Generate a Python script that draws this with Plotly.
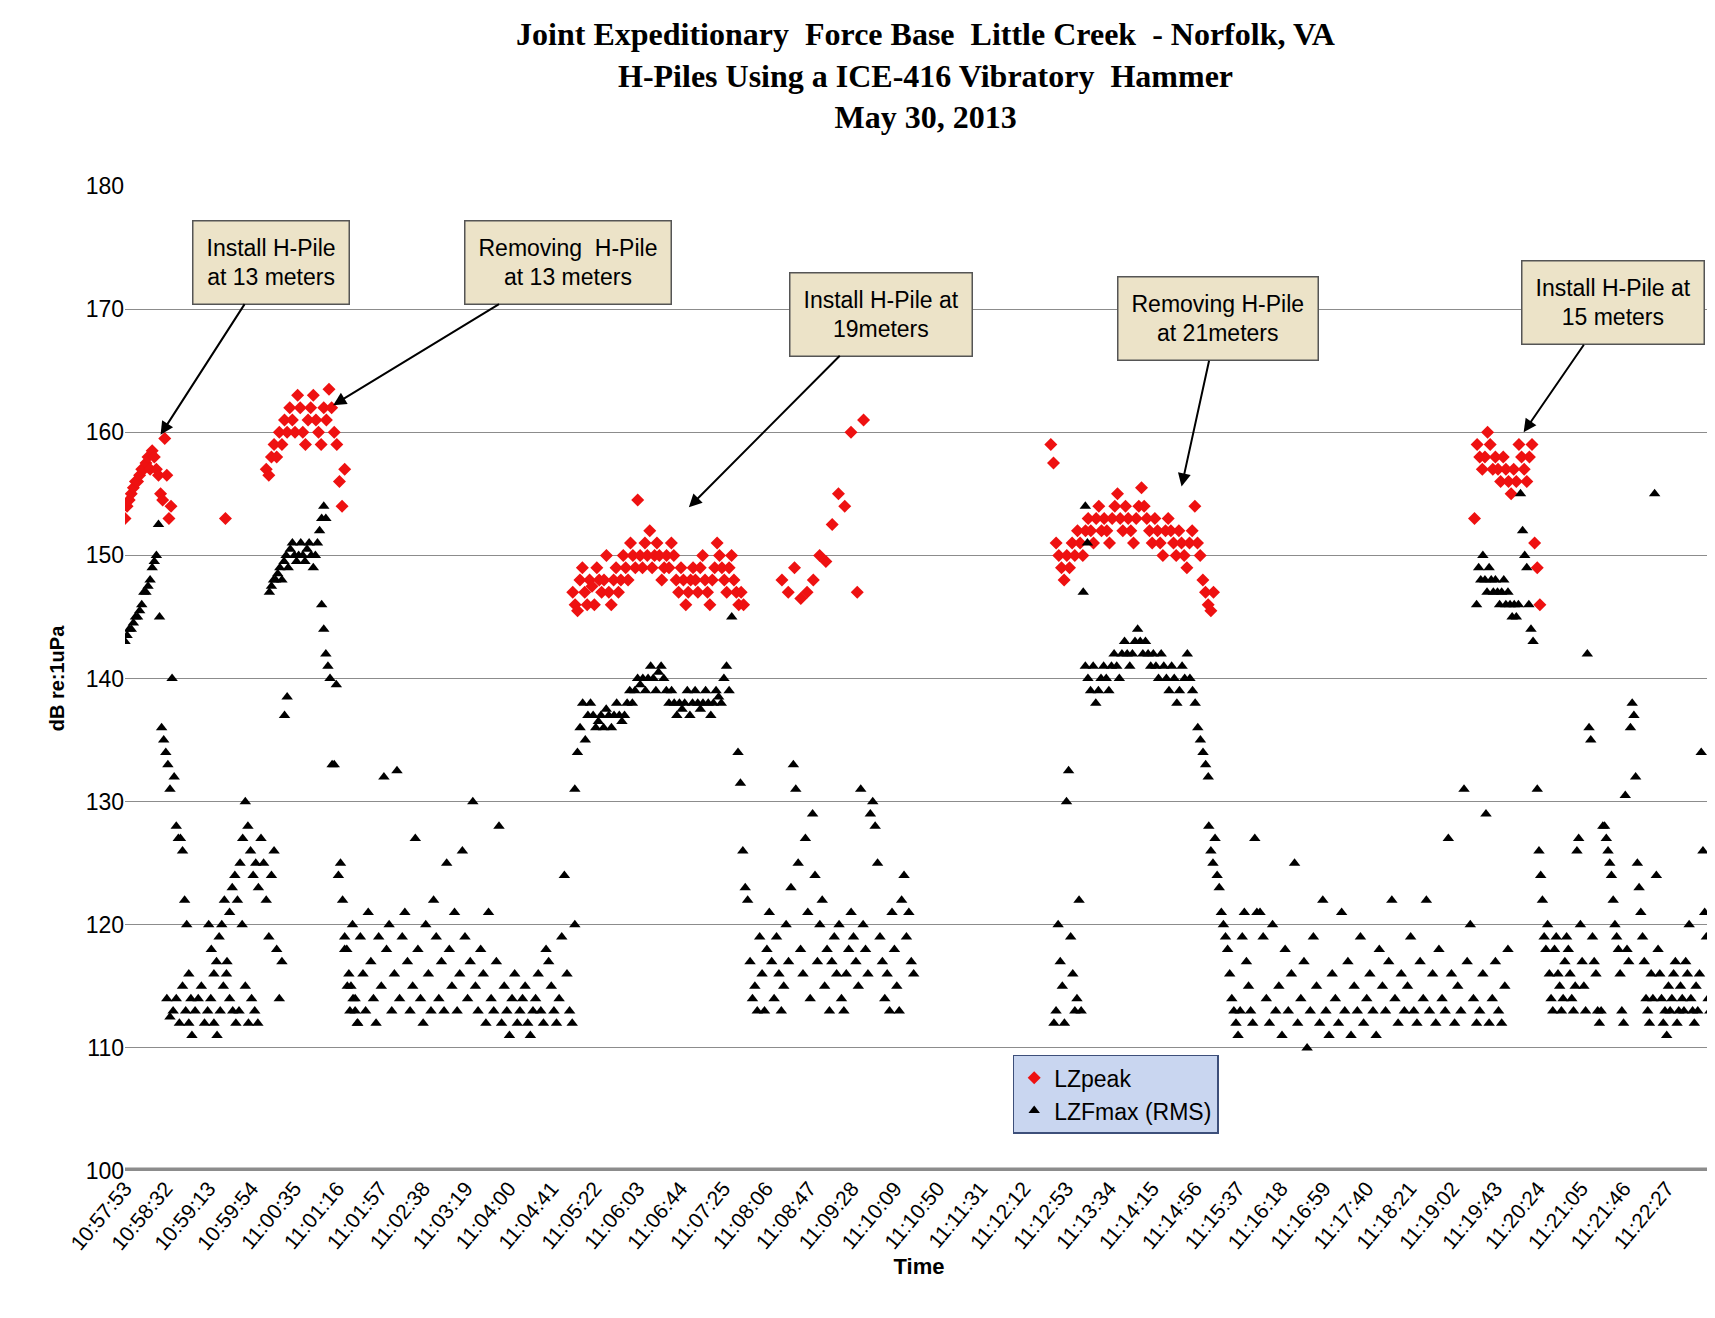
import plotly.graph_objects as go

# tick labels of the time axis (one every ~41 s)
tick_labels = ["10:57:53", "10:58:32", "10:59:13", "10:59:54", "11:00:35", "11:01:16", "11:01:57",
               "11:02:38", "11:03:19", "11:04:00", "11:04:41", "11:05:22", "11:06:03", "11:06:44",
               "11:07:25", "11:08:06", "11:08:47", "11:09:28", "11:10:09", "11:10:50", "11:11:31",
               "11:12:12", "11:12:53", "11:13:34", "11:14:15", "11:14:56", "11:15:37", "11:16:18",
               "11:16:59", "11:17:40", "11:18:21", "11:19:02", "11:19:43", "11:20:24", "11:21:05",
               "11:21:46", "11:22:27"]

# LZFmax (RMS) segments: (start second, sample step in s, values dB)
rms_segments = [
    (0, 2, [143, 143.5, 144, 144, 144.5, 145, 145, 145.5, 146, 147, 147, 147.5, 148, 149, 149.5, 150, 152.5]),
    (33, 2, [145, 136, 135, 134, 133, 131, 140, 132, 128, 127, 127, 126, 122, 120, 116, 114]),
    (40, 3, [114, 112.5, 113, 114, 112, 115, 113, 112, 111, 113, 114, 115, 112, 113, 114, 112, 111, 113, 115,
             116, 114, 113, 112, 113, 120, 115, 112, 114, 113, 112]),
    (80, 2.5, [120, 118, 116, 117, 119, 120, 122, 117, 121, 123, 124, 122, 125, 127, 130, 128, 126, 124, 125,
               123, 127, 125, 122, 119, 124, 126, 118, 114, 117, 137, 138.5]),
    (138, 2, [147, 147.5, 148, 148, 148.5, 149, 148, 149.5, 150, 149, 150.5, 151, 150, 149.5, 150, 151, 150,
              149.5, 150.5, 151, 150, 149, 150, 151, 152, 153, 154, 153]),
    (188, 2, [146, 144, 142, 141, 140, 133, 133, 139.5, 124, 125, 122, 119, 118, 116, 115, 114, 113, 112]),
    (210, 2.5, [118, 115, 113, 120, 114, 112, 119, 116, 113, 121, 117, 114, 112, 119, 115, 132, 118, 120, 113,
                116, 132.5, 114, 119, 121, 117, 113, 115, 127, 118, 114, 112, 120, 116, 113, 122, 119, 114, 117,
                113, 125, 118, 115, 121, 113, 116, 126, 119, 114, 117, 130, 115, 113, 118, 116, 112, 121, 114,
                113, 117, 128, 112, 115, 113, 111, 114, 116, 112, 113, 114, 115, 112, 111, 113, 114, 116, 113,
                112, 118, 117, 115, 113, 112, 114, 119, 124, 116, 113, 112, 120]),
    (430, 2.5, [131, 134, 136, 138, 135, 137, 138, 137, 136, 136.5, 137, 136, 137.5, 137, 136, 137, 138, 137,
                136.5, 137, 138, 139, 138, 139, 140, 139.5, 140, 139, 140, 141, 140, 139, 140.5, 141, 140, 139,
                138, 139, 138, 137, 138, 137.5, 138, 139, 137, 138, 139, 138, 137.5, 138, 139, 138, 137, 138,
                139, 138.5, 138, 140, 141, 139, 145]),
    (586, 2.3, [134, 131.5, 126, 123, 122, 117, 114, 115, 113, 119, 116, 113, 118, 121, 117, 114, 119, 116, 113,
                115, 120, 117, 123, 133, 131, 125, 118, 116, 127, 121, 114, 129, 124, 117, 120, 122, 115, 118,
                113, 117, 119, 116, 120, 114, 113, 116, 118, 121, 119, 117, 115, 131, 120, 118, 116, 129, 130,
                128, 125, 119, 117, 114, 116, 113, 121, 118, 115, 113, 122, 124, 119, 121, 117, 116]),
    (888, 2, [112, 113, 120, 117, 115, 112, 130, 132.5, 119, 116, 113, 114, 122, 113, 147, 154, 151]),
    (918, 2.5, [141, 140, 139, 141, 138, 139, 140, 141, 140, 139, 141, 142, 141, 140, 142, 143, 142, 141, 142,
                143, 144, 143, 142, 143, 142, 141, 142, 141, 140, 142, 141, 140, 139, 141, 140, 138, 139, 141,
                140, 142, 140, 139, 138, 136, 135, 134, 133, 132]),
    (1036, 2, [128, 126, 125, 127, 124, 123, 121, 120, 119, 118, 116, 114, 113, 112, 111, 113, 119, 121, 117,
               115, 113, 112, 127, 121]),
    (1085, 3, [121, 119, 114, 112, 120, 113, 115, 111, 118, 113, 116, 125, 112, 114, 117, 110, 113, 119, 115,
               112, 122, 113, 111, 116, 114, 112, 121, 113, 117, 111, 115, 113, 119, 112, 114, 116, 113, 111,
               118, 115, 113, 117, 122, 114, 112, 116, 113, 115, 119, 113, 112, 117, 114, 122, 113, 116, 112,
               118, 114, 113, 127, 116, 112, 115, 113, 131, 117, 120, 114, 112, 113, 116, 129, 112, 114, 117,
               113, 112, 115, 118]),
    (1292, 2, [146, 149, 148, 150, 148, 147, 149, 148, 147, 148, 147, 146, 147, 148, 146, 147, 146, 145, 146,
               145, 146, 155, 152, 150, 149, 146, 144, 143]),
    (1350, 1.65, [131, 126, 124, 122, 119, 118, 120, 116, 114, 113, 118, 119, 116, 115, 113, 114, 117, 119, 118,
                  116, 114, 113, 115, 126, 127, 120, 117, 115, 113, 142, 136, 135, 119, 117, 116, 113, 112, 113,
                  128, 128, 127, 126, 125, 124, 122, 120, 119, 118, 116, 113, 112, 130.5, 118, 117, 136, 138,
                  137, 132, 125, 123, 121, 119, 117, 114, 113, 112, 116, 114, 155, 124, 118, 116, 114, 112, 113,
                  111, 115, 113, 114, 116, 117, 112, 113, 115, 114, 113, 117, 116, 120, 114, 113, 112, 115, 113,
                  116, 134, 126, 121, 119, 114, 113]),
]

# LZpeak segments: (start second, sample step in s, values dB)
peak_segments = [
    (0, 2, [153, 154, 154.5, 155, 155.5, 156, 156, 156.5, 157, 157, 157.5, 158, 157, 158.5, 158, 157, 156.5,
            155, 154.5, 159.5, 156.5, 153, 154]),
    (96, 1, [153]),
    (135, 2.5, [157, 156.5, 158, 159, 158, 160, 159, 161, 160, 162, 161, 160, 163, 162, 160, 159, 161, 162, 163,
                161, 160, 159, 162, 161, 163.5, 162, 160, 159, 156, 154, 157]),
    (428, 2.3, [147, 146, 145.5, 148, 149, 147, 146, 148, 147.5, 146, 149, 148, 147, 148, 150, 147, 146, 148,
                149, 147, 148, 150, 149, 148, 151, 150, 149, 154.5, 150, 149, 151, 150, 152, 149, 150, 151, 150,
                148, 149, 150, 149, 151, 150, 148, 147, 149, 148, 146, 147, 148, 149, 148, 147, 149, 150, 148,
                147, 146, 148, 149, 151, 150, 149, 148, 147, 149, 150, 148, 147, 146, 147, 146]),
    (628, 6, [148, 147, 149, 146.5, 147, 148, 150, 149.5, 152.5, 155, 154, 160, 147, 161]),
    (885, 2.55, [159, 157.5, 151, 150, 149, 148, 150, 149, 151, 150, 152, 151, 150, 152, 153, 152, 151, 153, 154,
                 152, 153, 152, 151, 153, 154, 155, 153, 152, 154, 153, 152, 151, 153, 154, 155.5, 154, 153, 152,
                 151, 153, 152, 151, 150, 152, 153, 152, 151, 150, 152, 151, 150, 149, 151, 152, 154, 151, 150,
                 148, 147, 146, 145.5, 147]),
    (1290, 2.5, [153, 159, 158, 157, 158, 160, 159, 157, 158, 157, 156, 158, 157, 156, 155, 157, 156, 159, 158,
                 157, 156, 158, 159, 151, 149, 146]),
]

# callouts: text, box position (s, dB), arrow tip (s, dB)
callouts = [
    ("Install H-Pile<br>at 13 meters", (140, 173.8), (34, 159.8)),
    ("Removing  H-Pile<br>at 13 meters", (423, 173.8), (199, 162.2)),
    ("Install H-Pile at<br>19meters", (723, 169.6), (539, 153.9)),
    ("Removing H-Pile<br>at 21meters", (1045, 169.2), (1010, 155.6)),
    ("Install H-Pile at<br>15 meters", (1422, 170.5), (1337, 160)),
]


def to_sec(label):
    h, m, s = (int(v) for v in label.split(":"))
    return h * 3600 + m * 60 + s - (10 * 3600 + 57 * 60 + 53)


def expand(segments):
    xs, ys = [], []
    for t0, step, vals in segments:
        for i, v in enumerate(vals):
            xs.append(t0 + step * i)
            ys.append(v)
    return xs, ys


px, py = expand(peak_segments)
rx, ry = expand(rms_segments)

fig = go.Figure()
fig.add_trace(go.Scatter(x=px, y=py, mode="markers", name="LZpeak",
                         marker=dict(symbol="diamond", color="#ee1111", size=10)))
fig.add_trace(go.Scatter(x=rx, y=ry, mode="markers", name="LZFmax (RMS)",
                         marker=dict(symbol="triangle-up", color="black", size=10)))

for text, (bx, by), (tx, ty) in callouts:
    fig.add_annotation(x=tx, y=ty, ax=bx, ay=by, axref="x", ayref="y", text=text,
                       showarrow=True, arrowhead=2, arrowsize=1.3, arrowwidth=2, arrowcolor="black",
                       font=dict(family="Liberation Sans", size=23, color="black"),
                       bgcolor="#ece3c8", bordercolor="#555555", borderwidth=1.5, borderpad=13,
                       align="center")

fig.add_shape(type="line", xref="paper", yref="y", x0=0, x1=1, y0=100, y1=100,
              line=dict(color="#8c8c8c", width=7))

fig.update_layout(
    width=1715, height=1318, plot_bgcolor="white", paper_bgcolor="white",
    margin=dict(l=117, r=10, t=178, b=155),
    title=dict(text="Joint Expeditionary  Force Base  Little Creek  - Norfolk, VA<br>"
                    "H-Piles Using a ICE-416 Vibratory  Hammer<br>May 30, 2013",
               x=0.535, xanchor="center", y=0.972, yanchor="top",
               font=dict(family="Liberation Serif", size=32, color="black", weight="bold")),
    font=dict(family="Liberation Sans", color="black"),
    showlegend=True,
    legend=dict(x=0.559, y=0.118, xanchor="left", yanchor="top", bgcolor="#c9d6f0",
                bordercolor="#3d4f7a", borderwidth=1.5, font=dict(size=23),
                tracegroupgap=30, itemwidth=30),
)
fig.update_xaxes(range=[0, 1518], tickvals=[to_sec(l) for l in tick_labels], ticktext=tick_labels,
                 tickangle=-50, tickfont=dict(size=21), showgrid=False, zeroline=False,
                 title=dict(text="<b>Time</b>", font=dict(size=22), standoff=5))
fig.update_yaxes(range=[100, 180], dtick=10, tickfont=dict(size=23), gridcolor="#8c8c8c", gridwidth=1,
                 zeroline=False, title=dict(text="<b>dB re:1uPa</b>", font=dict(size=20)))

fig.write_html("out.html")
